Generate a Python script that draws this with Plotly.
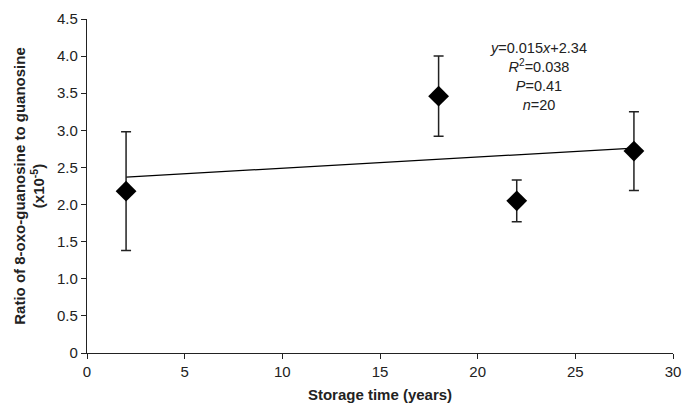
import plotly.graph_objects as go

storage_years = [2, 18, 22, 28]
ratio_mean = [2.18, 3.46, 2.05, 2.72]
ratio_err = [0.80, 0.54, 0.28, 0.53]
slope = 0.015
intercept = 2.34
trend_x = [2, 28]
y_ticks = [0, 0.5, 1.0, 1.5, 2.0, 2.5, 3.0, 3.5, 4.0, 4.5]
y_tick_text = ["0", "0.5", "1.0", "1.5", "2.0", "2.5", "3.0", "3.5", "4.0", "4.5"]
x_ticks = [0, 5, 10, 15, 20, 25, 30]

font = "Liberation Sans, Arial, sans-serif"

fig = go.Figure()
fig.add_trace(go.Scatter(
    x=trend_x, y=[slope * x + intercept for x in trend_x],
    mode="lines", line=dict(color="black", width=1.3), showlegend=False))
fig.add_trace(go.Scatter(
    x=storage_years, y=ratio_mean, mode="markers",
    marker=dict(symbol="diamond", size=16, color="black"),
    error_y=dict(type="data", array=ratio_err, visible=True, color="#222", thickness=1.5, width=5),
    showlegend=False))

fig.add_annotation(
    x=23.1, y=3.73, xref="x", yref="y",
    text="<i>y</i>=0.015<i>x</i>+2.34<br><i>R</i><sup>2</sup>=0.038<br><i>P</i>=0.41<br><i>n</i>=20",
    showarrow=False, align="center", font=dict(family=font, size=14.5, color="#222"),
    xanchor="center", yanchor="middle")

fig.update_layout(
    width=683, height=406,
    margin=dict(l=87, r=10, t=19, b=53),
    paper_bgcolor="white", plot_bgcolor="white",
    font=dict(family=font, size=15, color="#222"),
    xaxis=dict(range=[0, 30], tickvals=x_ticks, showline=True, linecolor="#222", linewidth=1.3,
               ticks="outside", ticklen=5, tickcolor="#222", showgrid=False, zeroline=False,
               ticklabeloverflow="allow", automargin=False,
               title=dict(text="<b>Storage time (years)</b>", font=dict(size=15, family=font), standoff=10)),
    yaxis=dict(range=[0, 4.5], tickvals=y_ticks, ticktext=y_tick_text, showline=True, linecolor="#222",
               linewidth=1.3, ticks="outside", ticklen=5, tickcolor="#222", showgrid=False, zeroline=False,
               automargin=False,
               title=dict(text="<b>Ratio of 8-oxo-guanosine to guanosine<br>(x10<sup>-5</sup>)</b>",
                          font=dict(size=15, family=font), standoff=8)),
)

fig.write_html("out.html")
